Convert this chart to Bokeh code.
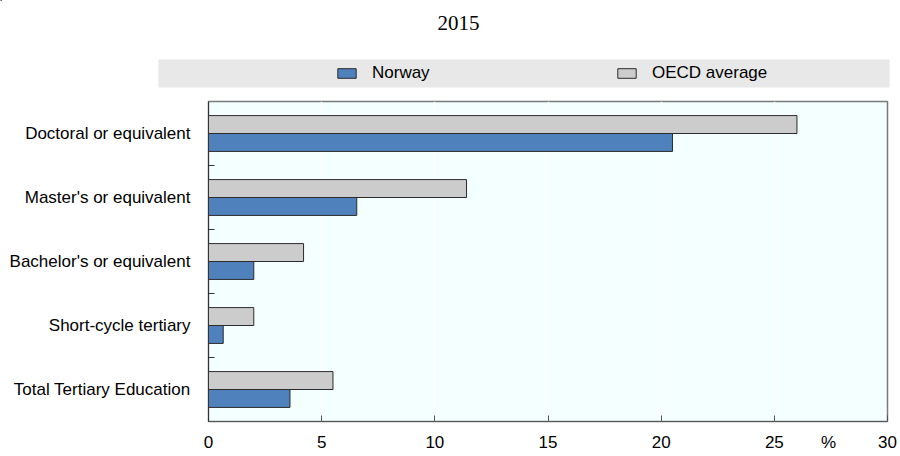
from bokeh.plotting import figure
from bokeh.models import Range1d, FixedTicker, Legend, LegendItem, ColumnDataSource
from bokeh.layouts import column
from bokeh.transform import dodge
from bokeh.embed import file_html
from bokeh.resources import INLINE
from bokeh.core.properties import value

# ---------------- data ----------------
title_text = "2015"
categories = [
    "Doctoral or equivalent",
    "Master's or equivalent",
    "Bachelor's or equivalent",
    "Short-cycle tertiary",
    "Total Tertiary Education",
]
norway = [20.5, 6.55, 2.0, 0.65, 3.6]
oecd_average = [26.0, 11.4, 4.2, 2.0, 5.5]
series_names = ["Norway", "OECD average"]
x_ticks = [0, 5, 10, 15, 20, 25, 30]
unit_label = "%"
unit_pos = 27.4

# ---------------- styles ----------------
NOR_COLOR = "#4f81bd"
OECD_COLOR = "#cccccc"
EDGE = "#2b2b2b"
FONT = "Liberation Sans"
FS = "17px"
BAR_H = 0.28
W = 900

idx = list(range(len(categories)))
src = ColumnDataSource(dict(idx=idx, cat=categories, nor=norway, oecd=oecd_average))

# ---------------- header figure (title + legend band) ----------------
TOP_H = 93
top = figure(width=W, height=TOP_H, x_range=Range1d(0, W), y_range=Range1d(TOP_H, 0),
             min_border=0, output_backend="svg", toolbar_location=None, frame_align=False)
top.axis.visible = False
top.grid.visible = False
top.outline_line_color = None
top.background_fill_color = "white"
top.border_fill_color = "white"

top.quad(left=[158], right=[889], top=[59], bottom=[87], fill_color="#e8e8e8", line_color=None)
top.text(x=[458], y=[22], text=[title_text], text_font=value("Liberation Serif"),
         text_font_size="21px", text_align="center", text_baseline="middle", text_color="#000000")

# legend proxies: one bar each, kept outside the header's visible range
proxy = ColumnDataSource(dict(y=[-1000], r=[1]))
d_nor = top.hbar(y="y", right="r", height=1, source=proxy, fill_color=NOR_COLOR, line_color=EDGE, line_width=1)
d_oecd = top.hbar(y="y", right="r", height=1, source=proxy, fill_color=OECD_COLOR, line_color=EDGE, line_width=1)
legend = Legend(items=[LegendItem(label=series_names[0], renderers=[d_nor]),
                       LegendItem(label=series_names[1], renderers=[d_oecd])],
                orientation="horizontal", location=(335, 10), padding=0, margin=0, spacing=0,
                glyph_width=23, glyph_height=12, label_standoff=14, label_width=243,
                label_text_font=FONT, label_text_font_size=FS, label_text_color="#000000",
                background_fill_alpha=0, border_line_alpha=0)
top.add_layout(legend, "center")

# ---------------- main chart ----------------
p = figure(frame_width=679, frame_height=320,
           x_range=Range1d(x_ticks[0], x_ticks[-1]),
           y_range=Range1d(len(categories) - 0.5, -0.5),
           min_border_left=208, min_border_right=13, min_border_top=8, min_border_bottom=35,
           output_backend="svg", toolbar_location=None, frame_align=False)

p.hbar(y=dodge("idx", -BAR_H / 2, range=p.y_range), left=0, right="oecd", height=BAR_H,
       source=src, fill_color=OECD_COLOR, line_color=EDGE, line_width=1)
p.hbar(y=dodge("idx", BAR_H / 2, range=p.y_range), left=0, right="nor", height=BAR_H,
       source=src, fill_color=NOR_COLOR, line_color=EDGE, line_width=1)

p.background_fill_color = "#f4ffff"
p.border_fill_color = "white"
p.outline_line_color = "#7a7a7a"
p.outline_line_width = 1.5

p.ygrid.visible = False
p.xgrid.ticker = FixedTicker(ticks=x_ticks)
p.xgrid.grid_line_color = "white"
p.xgrid.grid_line_width = 1.5

# x axis: tick marks drawn as minor ticks so the unit label can sit among the tick labels
p.xaxis.ticker = FixedTicker(ticks=x_ticks + [unit_pos], minor_ticks=x_ticks)
p.xaxis.major_label_overrides = {unit_pos: unit_label}
p.xaxis.major_tick_line_color = None
p.xaxis.major_tick_in = 0
p.xaxis.major_tick_out = 0
p.xaxis.minor_tick_in = 6
p.xaxis.minor_tick_out = 0
p.xaxis.minor_tick_line_color = "#555555"
p.xaxis.axis_line_color = "#555555"
p.xaxis.major_label_standoff = 11
p.xaxis.major_label_text_font = FONT
p.xaxis.major_label_text_font_size = FS
p.xaxis.major_label_text_color = "#000000"

# y axis
p.yaxis.ticker = FixedTicker(ticks=idx, minor_ticks=[i + 0.5 for i in idx[:-1]])
p.yaxis.major_label_overrides = {i: c for i, c in zip(idx, categories)}
p.yaxis.major_tick_in = 0
p.yaxis.major_tick_out = 0
p.yaxis.minor_tick_in = 6
p.yaxis.minor_tick_out = 0
p.yaxis.minor_tick_line_color = "#333333"
p.yaxis.axis_line_color = "#333333"
p.yaxis.major_label_standoff = 18
p.yaxis.major_label_text_font = FONT
p.yaxis.major_label_text_font_size = FS
p.yaxis.major_label_text_color = "#000000"

layout = column(top, p, spacing=0)
open("out.html", "w").write(file_html(layout, INLINE))
